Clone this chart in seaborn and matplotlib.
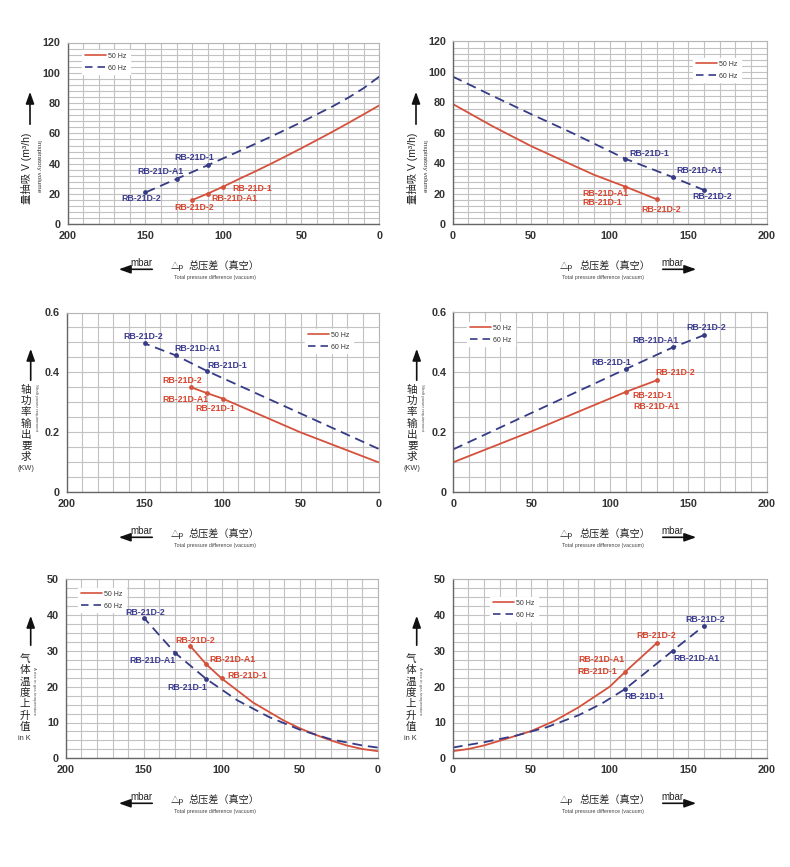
import matplotlib
matplotlib.use('Agg')
import numpy as np
import pandas as pd
import matplotlib.pyplot as plt
import seaborn as sns
from matplotlib.lines import Line2D
from matplotlib.patches import FancyArrowPatch
from matplotlib.ticker import MultipleLocator, FuncFormatter

sns.set_theme(style='white')
plt.rcParams['font.family'] = ['Liberation Sans', 'Noto Sans CJK SC', 'DejaVu Sans']

# ---------------- data ----------------
freqs = ['50 Hz', '60 Hz']
models = ['RB-21D-1', 'RB-21D-A1', 'RB-21D-2']

# Row 1: inspiratory volume V (m3/h)
tl_dp50 = [120, 110, 100, 90, 80, 70, 60, 50, 40, 30, 20, 10, 0]
tl_v50 = [16, 20.3, 24.9, 29.9, 34.7, 39.7, 44.9, 50.2, 55.6, 61.1, 66.8, 72.6, 78.5]
tl_dp60 = [150, 130, 110, 90, 70, 50, 30, 20, 10, 0]
tl_v60 = [21, 30, 39, 48.2, 57.6, 67.4, 77.8, 83.5, 89.9, 97.5]
tl_pts50 = {'dp': [100, 110, 120], 'v': [24.9, 20.3, 16]}
tl_pts60 = {'dp': [110, 130, 150], 'v': [39, 30, 21]}

tr_dp50 = [0, 25, 50, 75, 90, 110, 130]
tr_v50 = [79, 64.6, 51.3, 39.5, 32.5, 24.7, 16.4]
tr_dp60 = [0, 25, 50, 75, 110, 140, 160]
tr_v60 = [97, 84.5, 72.3, 60.5, 43, 31, 22.5]
tr_pts50 = {'dp': [110, 130], 'v': [24.7, 16.4]}
tr_pts60 = {'dp': [110, 140, 160], 'v': [43, 31, 22.5]}

# Row 2: shaft power (kW)
ml_dp50 = [120, 110, 100, 50, 0]
ml_v50 = [0.35, 0.331, 0.313, 0.2, 0.1]
ml_dp60 = [150, 130, 110, 0]
ml_v60 = [0.497, 0.457, 0.405, 0.145]
ml_pts50 = {'dp': [100, 110, 120], 'v': [0.313, 0.331, 0.35]}
ml_pts60 = {'dp': [110, 130, 150], 'v': [0.405, 0.457, 0.497]}

mr_dp50 = [0, 50, 110, 130]
mr_v50 = [0.1, 0.203, 0.334, 0.373]
mr_dp60 = [0, 110, 140, 160]
mr_v60 = [0.143, 0.41, 0.482, 0.523]
mr_pts50 = {'dp': [110, 130], 'v': [0.334, 0.373]}
mr_pts60 = {'dp': [110, 140, 160], 'v': [0.41, 0.482, 0.523]}

# Row 3: gas temperature rise (K)
bl_dp50 = [120, 110, 100, 80, 60, 50, 40, 30, 20, 10, 0]
bl_v50 = [31.3, 26.3, 22.3, 15.6, 10.5, 8.4, 6.6, 5.0, 3.6, 2.6, 2.0]
bl_dp60 = [150, 130, 110, 90, 70, 50, 30, 10, 0]
bl_v60 = [39.3, 29.5, 22.2, 16.2, 11.6, 8.0, 5.3, 3.6, 3.0]
bl_pts50 = {'dp': [100, 110, 120], 'v': [22.3, 26.3, 31.3]}
bl_pts60 = {'dp': [110, 130, 150], 'v': [22.2, 29.5, 39.3]}

br_dp50 = [0, 10, 20, 30, 50, 65, 80, 100, 110, 130]
br_v50 = [2.0, 2.6, 3.6, 4.9, 7.6, 10.5, 14.2, 20, 24.2, 32.2]
br_dp60 = [0, 20, 40, 60, 80, 95, 110, 140, 160]
br_v60 = [3.0, 4.5, 6.3, 8.7, 12, 15.3, 19.4, 30, 37]
br_pts50 = {'dp': [110, 130], 'v': [24.2, 32.2]}
br_pts60 = {'dp': [110, 140, 160], 'v': [19.4, 30, 37]}

# ---------------- style / layout ----------------
RED = '#d5513c'
BLUE = '#363b86'
RED_T = '#d9452f'
BLUE_T = '#3b3b92'

W, H = 790, 867
fig = plt.figure(figsize=(W / 100, H / 100), dpi=100)
fig.patch.set_facecolor('white')


def fx(x):
    return x / W


def fy(y):
    return 1 - y / H


def rect(l, r, t, b):
    return [l / W, 1 - b / H, (r - l) / W, (b - t) / H]


def fmt(v, _):
    if abs(v) < 1e-9:
        return '0'
    return f'{v:g}'


def panel(rpx, dp50, v50, dp60, v60, p50, p60, lab50, lab60, xinv,
          ylim, ymaj, ymin, leg_px):
    ax = fig.add_axes(rect(*rpx))
    df = pd.concat([
        pd.DataFrame({'dp': dp50, 'v': v50, 'f': freqs[0]}),
        pd.DataFrame({'dp': dp60, 'v': v60, 'f': freqs[1]}),
    ], ignore_index=True)
    sns.lineplot(data=df, x='dp', y='v', hue='f', style='f',
                 palette={freqs[0]: RED, freqs[1]: BLUE},
                 dashes={freqs[0]: '', freqs[1]: (5.5, 3.2)},
                 linewidth=1.3, legend=False, ax=ax, errorbar=None)
    sns.scatterplot(x=p50['dp'], y=p50['v'], color=RED, s=12,
                    linewidth=0, ax=ax, zorder=5)
    sns.scatterplot(x=p60['dp'], y=p60['v'], color=BLUE, s=12,
                    linewidth=0, ax=ax, zorder=5)
    for (t, x, y) in lab50:
        ax.text(x, y, t, color=RED_T, fontsize=6.4, fontweight='bold',
                ha='center', va='center', zorder=8)
    for (t, x, y) in lab60:
        ax.text(x, y, t, color=BLUE_T, fontsize=6.4, fontweight='bold',
                ha='center', va='center', zorder=8)

    if xinv:
        ax.set_xlim(200, 0)
    else:
        ax.set_xlim(0, 200)
    ax.set_ylim(*ylim)
    ax.xaxis.set_major_locator(MultipleLocator(50))
    ax.xaxis.set_minor_locator(MultipleLocator(10))
    ax.yaxis.set_major_locator(MultipleLocator(ymaj))
    ax.yaxis.set_minor_locator(MultipleLocator(ymin))
    ax.xaxis.set_major_formatter(FuncFormatter(fmt))
    ax.yaxis.set_major_formatter(FuncFormatter(fmt))
    ax.grid(which='both', color='#c2c2c2', linewidth=0.8)
    ax.set_axisbelow(True)
    ax.tick_params(which='major', direction='out', length=3, width=0.8,
                   color='#555555', labelsize=7.8, labelcolor='#333333', pad=2)
    ax.tick_params(which='minor', length=0)
    for lbl in ax.get_xticklabels() + ax.get_yticklabels():
        lbl.set_fontweight('bold')
    for s in ['left', 'bottom']:
        ax.spines[s].set_color('#666666')
        ax.spines[s].set_linewidth(1.0)
    for s in ['top', 'right']:
        ax.spines[s].set_color('#b5b5b5')
        ax.spines[s].set_linewidth(0.8)
    ax.set_xlabel('')
    ax.set_ylabel('')

    handles = [Line2D([], [], color=RED, lw=1.2),
               Line2D([], [], color=BLUE, lw=1.2, dashes=(4.5, 3))]
    leg = ax.legend(handles, freqs, loc='upper left',
                    bbox_to_anchor=(fx(leg_px[0]), fy(leg_px[1])),
                    bbox_transform=fig.transFigure, fontsize=5,
                    frameon=True, facecolor='white', edgecolor='white',
                    framealpha=1, handlelength=3.0, borderpad=0.4,
                    labelspacing=0.7, handletextpad=0.4, borderaxespad=0,
                    fancybox=False)
    leg.set_zorder(6)
    for t in leg.get_texts():
        t.set_color('#333333')
    return ax


def arrow(x0, y0, x1, y1):
    fig.add_artist(FancyArrowPatch((fx(x0), fy(y0)), (fx(x1), fy(y1)),
                                   transform=fig.transFigure,
                                   arrowstyle='-|>,head_length=0.7,head_width=0.25',
                                   mutation_scale=10, lw=1.2, color='#111111'))


def xlabel(b, left):
    if left:
        arrow(155, b + 45, 116, b + 45)
        fig.text(fx(141), fy(b + 38.5), 'mbar', fontsize=7, color='#222',
                 ha='center', va='center')
        fig.text(fx(177), fy(b + 42), '△p', fontsize=6, color='#222',
                 ha='center', va='center')
        fig.text(fx(189), fy(b + 42), '总压差（真空）', fontsize=7.3,
                 color='#222', ha='left', va='center')
        fig.text(fx(215), fy(b + 53), 'Total pressure difference (vacuum)',
                 fontsize=3.8, color='#444', ha='center', va='center')
    else:
        fig.text(fx(566), fy(b + 42), '△p', fontsize=6, color='#222',
                 ha='center', va='center')
        fig.text(fx(580), fy(b + 42), '总压差（真空）', fontsize=7.3,
                 color='#222', ha='left', va='center')
        fig.text(fx(672), fy(b + 38.5), 'mbar', fontsize=7, color='#222',
                 ha='center', va='center')
        arrow(660, b + 45, 699, b + 45)
        fig.text(fx(603), fy(b + 53), 'Total pressure difference (vacuum)',
                 fontsize=3.8, color='#444', ha='center', va='center')


def ylabel_top(o):
    arrow(30 + o, 127, 30 + o, 89)
    fig.text(fx(26 + o), fy(168), '量抽吸 V (m³/h)', fontsize=7.5,
             color='#222', rotation=90, ha='center', va='center')
    fig.text(fx(38 + o), fy(166), 'Inspiratory volume', fontsize=4.6,
             color='#333', rotation=270, ha='center', va='center')


def ylabel_stack(o, chars, y0, dy, cx, unit, uy, eng, ex, ey, ay0, ay1, ax_):
    arrow(ax_ + o, ay0, ax_ + o, ay1)
    for i, c in enumerate(chars):
        fig.text(fx(cx + o), fy(y0 + dy * i), c, fontsize=7.6, color='#222',
                 ha='center', va='center')
    fig.text(fx(cx + o), fy(uy), unit, fontsize=5.3, color='#333',
             ha='center', va='center')
    fig.text(fx(ex + o), fy(ey), eng, fontsize=3.2, color='#555',
             rotation=270, ha='center', va='center')


# label layouts (text, x, y in data coordinates)
tl_l50 = [('RB-21D-1', 81.7, 23.9), ('RB-21D-A1', 92.6, 17.2), ('RB-21D-2', 119, 11.3)]
tl_l60 = [('RB-21D-1', 119, 44), ('RB-21D-A1', 140.5, 35), ('RB-21D-2', 153, 16.8)]
tr_l50 = [('RB-21D-A1', 97, 20.3), ('RB-21D-1', 95, 14.0), ('RB-21D-2', 132.7, 9.8)]
tr_l60 = [('RB-21D-1', 125, 46.3), ('RB-21D-A1', 157, 35.1), ('RB-21D-2', 165, 18.1)]
ml_l50 = [('RB-21D-2', 125.7, 0.372), ('RB-21D-A1', 123.8, 0.31), ('RB-21D-1', 104.5, 0.28)]
ml_l60 = [('RB-21D-2', 150.9, 0.52), ('RB-21D-A1', 116, 0.481), ('RB-21D-1', 96.8, 0.424)]
mr_l50 = [('RB-21D-2', 141.5, 0.398), ('RB-21D-1', 127, 0.322), ('RB-21D-A1', 129.4, 0.286)]
mr_l60 = [('RB-21D-2', 161.7, 0.547), ('RB-21D-A1', 128.7, 0.504), ('RB-21D-1', 100.9, 0.433)]
bl_l50 = [('RB-21D-2', 117, 32.9), ('RB-21D-A1', 93.4, 27.7), ('RB-21D-1', 83.8, 23)]
bl_l60 = [('RB-21D-2', 148.9, 40.8), ('RB-21D-A1', 144.2, 27.3), ('RB-21D-1', 122.2, 19.8)]
br_l50 = [('RB-21D-2', 129.5, 34.2), ('RB-21D-A1', 94.7, 27.5), ('RB-21D-1', 92.1, 24.3)]
br_l60 = [('RB-21D-2', 160.7, 38.9), ('RB-21D-A1', 155.4, 27.9), ('RB-21D-1', 122.3, 17.2)]

panel((67.5, 379.3, 42.5, 224.3), tl_dp50, tl_v50, tl_dp60, tl_v60,
      tl_pts50, tl_pts60, tl_l50, tl_l60, True, (0, 120), 20, 4, (82, 50))
panel((452.7, 766.7, 41.5, 224.3), tr_dp50, tr_v50, tr_dp60, tr_v60,
      tr_pts50, tr_pts60, tr_l50, tr_l60, False, (0, 120), 20, 4, (693, 58))
panel((66.5, 378.5, 312.5, 492.3), ml_dp50, ml_v50, ml_dp60, ml_v60,
      ml_pts50, ml_pts60, ml_l50, ml_l60, True, (0, 0.6), 0.2, 0.05, (305, 329))
panel((453.3, 766.7, 312, 492.3), mr_dp50, mr_v50, mr_dp60, mr_v60,
      mr_pts50, mr_pts60, mr_l50, mr_l60, False, (0, 0.6), 0.2, 0.05, (467, 322))
panel((65.7, 377.7, 579.3, 758.3), bl_dp50, bl_v50, bl_dp60, bl_v60,
      bl_pts50, bl_pts60, bl_l50, bl_l60, True, (0, 50), 10, 2.5, (78, 588))
panel((452.7, 766.7, 579.3, 758.3), br_dp50, br_v50, br_dp60, br_v60,
      br_pts50, br_pts60, br_l50, br_l60, False, (0, 50), 10, 2.5, (490, 597))

for b in (224.3, 492.3, 758.3):
    xlabel(b, True)
    xlabel(b, False)

for o in (0, 386):
    ylabel_top(o)
    ylabel_stack(o, '轴功率输出要求', 390, 11.2, 26.2, '(KW)', 468,
                 'Shaft power requirement', 36, 408, 383, 346, 30.7)
    ylabel_stack(o, '气体温度上升值', 659, 11.3, 24.5, 'in K', 738,
                 'A rise in gas temperature', 34, 691, 648, 613, 30.7)

fig.savefig('out.png', dpi=100, facecolor='white')
